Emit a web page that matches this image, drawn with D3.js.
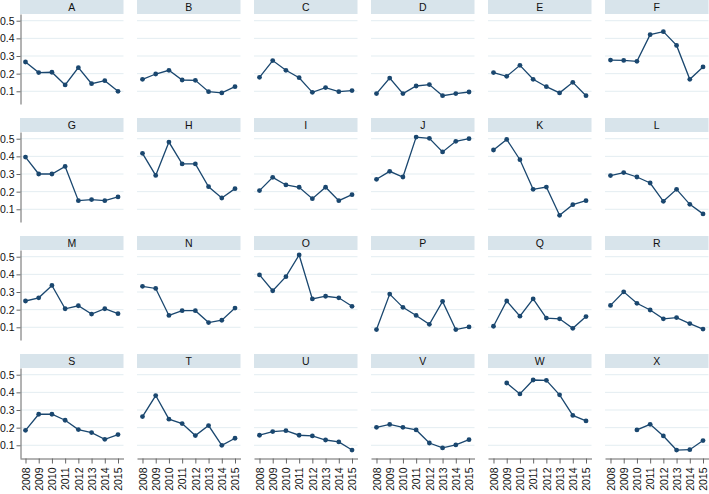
<!DOCTYPE html>
<html>
<head>
<meta charset="utf-8">
<script src="https://cdn.jsdelivr.net/npm/d3@7"></script>
<style>
  html, body { margin: 0; padding: 0; background: #fff; }
  svg { display: block; }
  text { font-family: "Liberation Sans", Arial, sans-serif; }
</style>
</head>
<body>
<svg id="chart" width="709" height="494"></svg>
<script>
const years = [2008, 2009, 2010, 2011, 2012, 2013, 2014, 2015];
const yTicks = [0.1, 0.2, 0.3, 0.4, 0.5];
const panels = ["A","B","C","D","E","F","G","H","I","J","K","L","M","N","O","P","Q","R","S","T","U","V","W","X"];

const A = [0.266, 0.206, 0.208, 0.136, 0.234, 0.143, 0.160, 0.100];
const B = [0.168, 0.198, 0.219, 0.164, 0.162, 0.098, 0.091, 0.126];
const C = [0.179, 0.274, 0.219, 0.177, 0.094, 0.121, 0.098, 0.104];
const D = [0.087, 0.175, 0.087, 0.130, 0.138, 0.075, 0.087, 0.096];
const E = [0.206, 0.185, 0.247, 0.168, 0.126, 0.091, 0.151, 0.075];
const F = [0.277, 0.275, 0.270, 0.421, 0.438, 0.360, 0.168, 0.238];
const G = [0.396, 0.300, 0.300, 0.343, 0.149, 0.155, 0.149, 0.170];
const H = [0.417, 0.292, 0.481, 0.357, 0.357, 0.228, 0.164, 0.217];
const I = [0.206, 0.281, 0.238, 0.225, 0.160, 0.225, 0.149, 0.183];
const J = [0.270, 0.315, 0.283, 0.509, 0.502, 0.425, 0.485, 0.500];
const K = [0.436, 0.496, 0.381, 0.213, 0.226, 0.066, 0.126, 0.149];
const L = [0.291, 0.308, 0.283, 0.249, 0.145, 0.213, 0.128, 0.074];
const M = [0.249, 0.267, 0.337, 0.205, 0.222, 0.175, 0.205, 0.177];
const N = [0.332, 0.320, 0.167, 0.194, 0.194, 0.127, 0.140, 0.209];
const O = [0.397, 0.307, 0.387, 0.510, 0.261, 0.276, 0.267, 0.219];
const P = [0.087, 0.288, 0.213, 0.167, 0.117, 0.247, 0.087, 0.102];
const Q = [0.106, 0.249, 0.163, 0.261, 0.152, 0.148, 0.094, 0.161];
const R = [0.224, 0.301, 0.236, 0.198, 0.148, 0.155, 0.121, 0.090];
const S = [0.185, 0.276, 0.276, 0.242, 0.189, 0.172, 0.134, 0.161];
const T = [0.263, 0.382, 0.248, 0.223, 0.155, 0.212, 0.100, 0.140];
const U = [0.157, 0.178, 0.183, 0.157, 0.153, 0.130, 0.119, 0.073];
const V = [0.202, 0.218, 0.202, 0.187, 0.113, 0.085, 0.102, 0.132];
const W = [null, 0.453, 0.391, 0.470, 0.468, 0.386, 0.269, 0.238];
const X = [null, null, 0.187, 0.219, 0.153, 0.073, 0.075, 0.127];

const series = {A,B,C,D,E,F,G,H,I,J,K,L,M,N,O,P,Q,R,S,T,U,V,W,X};

const svg = d3.select("#chart");
const nCols = 6, nRows = 4;
const colStep = 117, rowStep = 118;
const panelLeft0 = 20, panelW = 103.5;
const stripH = 14, plotH = 90;
const navy = "#1a476f";

panels.forEach((name, i) => {
  const c = i % nCols, r = Math.floor(i / nCols);
  const left = panelLeft0 + c * colStep;
  const right = left + panelW;
  const stripTop = r * rowStep;
  const top = stripTop + stripH;
  const bottom = top + plotH;

  const x = d3.scaleLinear().domain([2008 - 0.415, 2015 + 0.415]).range([left, right]);
  const y = d3.scaleLinear().domain([0.028, 0.538]).range([bottom, top]);

  const g = svg.append("g");

  // strip
  g.append("rect").attr("x", left).attr("y", stripTop).attr("width", panelW).attr("height", stripH)
    .attr("fill", "#d8e4eb");
  g.append("text").attr("x", (left + right) / 2).attr("y", stripTop + 11)
    .attr("text-anchor", "middle").attr("font-size", "10.5px").attr("fill", "#111").text(name);

  // gridlines
  g.selectAll(".grid").data(yTicks).join("line")
    .attr("x1", left).attr("x2", right)
    .attr("y1", d => y(d)).attr("y2", d => y(d))
    .attr("stroke", "#e3edf1").attr("stroke-width", 1);

  // y axis on first column
  if (c === 0) {
    const ya = g.append("g").attr("transform", `translate(${left + 0.5},0)`)
      .call(d3.axisLeft(y).tickValues(yTicks).tickSize(4).tickSizeOuter(0).tickPadding(2)
        .tickFormat(d3.format(".1f")));
    ya.select(".domain").attr("stroke", "#666");
    ya.selectAll(".tick line").attr("stroke", "#666");
    ya.selectAll("text").attr("font-size", "10.5px").attr("fill", "#111")
      .style("font-family", '"Liberation Sans", Arial, sans-serif');
  }

  // x axis on bottom row
  if (r === nRows - 1) {
    const xa = g.append("g").attr("transform", `translate(0,${bottom + 0.5})`)
      .call(d3.axisBottom(x).tickValues(years).tickSize(5).tickSizeOuter(0).tickFormat(d3.format("d")));
    xa.select(".domain").attr("stroke", "#666");
    xa.selectAll(".tick line").attr("stroke", "#666");
    xa.selectAll("text")
      .attr("font-size", "10.5px").attr("fill", "#111")
      .style("font-family", '"Liberation Sans", Arial, sans-serif')
      .attr("text-anchor", "end")
      .attr("dy", "0.35em")
      .attr("transform", "translate(0,9) rotate(-90)")
      .attr("x", 0).attr("y", 0);
  }

  // line and markers
  const vals = series[name];
  const pts = years.map((yr, k) => ({ yr, v: vals[k] }));
  const line = d3.line().defined(d => d.v != null).x(d => x(d.yr)).y(d => y(d.v));
  g.append("path").datum(pts).attr("d", line)
    .attr("fill", "none").attr("stroke", navy).attr("stroke-width", 1.3);
  g.selectAll(".pt").data(pts.filter(d => d.v != null)).join("circle")
    .attr("cx", d => x(d.yr)).attr("cy", d => y(d.v)).attr("r", 2.4).attr("fill", navy);
});
</script>
</body>
</html>
